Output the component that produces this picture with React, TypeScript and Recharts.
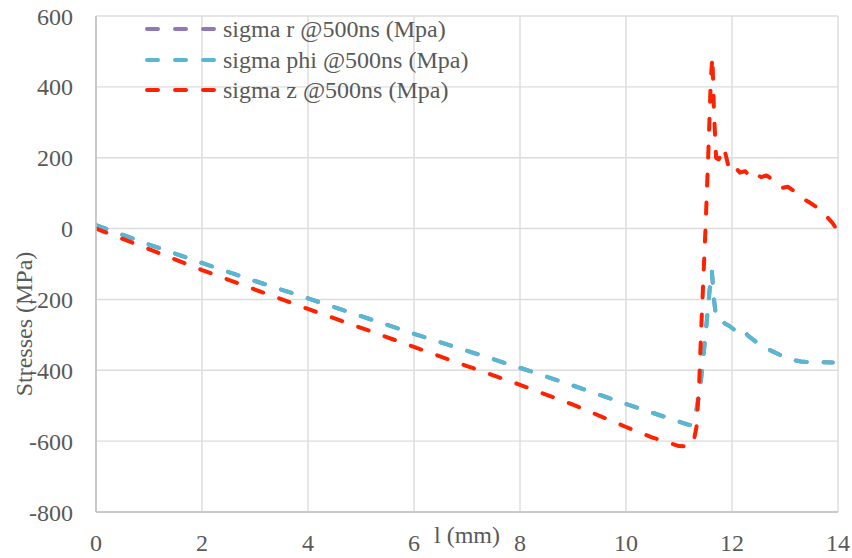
import { LineChart, Line, XAxis, YAxis, CartesianGrid, Legend, Label } from 'recharts';

const FONT = "'Liberation Serif', Tinos, 'Times New Roman', Times, 'DejaVu Serif', 'Noto Serif', serif";
const TEXT = '#595959';

const xTicks = [0, 2, 4, 6, 8, 10, 12, 14];
const yTicks = [-800, -600, -400, -200, 0, 200, 400, 600];

const seriesNames = ['sigma r @500ns (Mpa)', 'sigma phi @500ns (Mpa)', 'sigma z @500ns (Mpa)'];
const seriesColors = ['#8f78b6', '#57b8d2', '#ff2200'];

// position along the specimen, mm
const phiPos = [
  0, 1, 2, 3, 4, 5, 6, 7, 8, 9, 10, 10.5, 11, 11.2, 11.3, 11.4, 11.5, 11.58, 11.62,
  11.66, 11.7, 11.8, 11.95, 12.1, 12.2, 12.3, 12.5, 12.7, 12.9, 13.1, 13.3, 13.5, 13.7, 13.9,
];
const phiStress = [
  10, -45, -97, -148, -197, -247, -297, -345, -393, -443, -495, -520, -545, -555, -535, -450, -300, -170, -120,
  -200, -250, -262, -275, -292, -285, -302, -325, -342, -356, -370, -375, -378, -377, -378,
];

// sigma r sits underneath sigma phi over the whole length
const rPos = phiPos;
const rStress = phiStress;

const zPos = [
  0, 1, 2, 3, 4, 5, 6, 7, 8, 9, 10, 10.5, 11, 11.2, 11.27, 11.33, 11.38, 11.42, 11.46, 11.5, 11.55, 11.6, 11.63,
  11.66, 11.7, 11.75, 11.85, 11.95, 12.05, 12.15, 12.25, 12.35, 12.45, 12.55, 12.65, 12.75, 12.85, 12.95,
  13.05, 13.15, 13.3, 13.45, 13.6, 13.75, 13.9, 14,
];
const zStress = [
  0, -58, -117, -172, -227, -280, -334, -388, -441, -497, -560, -590, -614, -615, -605, -560, -440, -280, -140, 0, 200, 420, 485,
  330, 200, 195, 228, 165, 175, 158, 162, 145, 155, 145, 150, 140, 128, 115,
  118, 108, 88, 75, 60, 40, 15, -8,
];

const zip = (xs: number[], ys: number[]) => xs.map((x, i) => ({ x, y: ys[i] }));
const seriesData = [zip(rPos, rStress), zip(phiPos, phiStress), zip(zPos, zStress)];

function LegendBox() {
  return (
    <div style={{ fontFamily: FONT, fontSize: 24, color: TEXT }}>
      {seriesNames.map((name, i) => (
        <div key={name} style={{ display: 'flex', alignItems: 'center', height: 30.5, whiteSpace: 'nowrap' }}>
          <svg width={80} height={8} style={{ flex: 'none' }}>
            <line
              x1={4}
              y1={4}
              x2={72}
              y2={4}
              stroke={seriesColors[i]}
              strokeWidth={4}
              strokeDasharray="11 17"
              strokeLinecap="round"
            />
          </svg>
          <span style={{ lineHeight: '24px' }}>{name}</span>
        </div>
      ))}
    </div>
  );
}

export default function App() {
  return (
    <div style={{ position: 'absolute', left: 0, top: 0, background: '#fff', fontFamily: FONT }}>
      <LineChart width={852} height={558} margin={{ top: 16, right: 14, bottom: 0, left: 0 }}>
        <CartesianGrid stroke="#dcdcdc" strokeWidth={1.4} horizontalValues={yTicks} verticalValues={xTicks} />
        <XAxis
          type="number"
          dataKey="x"
          domain={[0, 14]}
          ticks={xTicks}
          allowDataOverflow
          height={46}
          tickLine={false}
          tickSize={0}
          tickMargin={22}
          axisLine={{ stroke: '#bfbfbf', strokeWidth: 1.5 }}
          tick={{ fill: TEXT, fontSize: 24, fontFamily: FONT }}
        >
          <Label
            content={({ viewBox }: any) => (
              <text
                x={viewBox.x + viewBox.width / 2}
                y={viewBox.y + 23}
                textAnchor="middle"
                dominantBaseline="central"
                fill={TEXT}
                fontSize={24}
                fontFamily={FONT}
              >
                l (mm)
              </text>
            )}
          />
        </XAxis>
        <YAxis
          type="number"
          domain={[-800, 600]}
          ticks={yTicks}
          allowDataOverflow
          width={96}
          tickLine={false}
          tickSize={0}
          tickMargin={23}
          axisLine={{ stroke: '#bfbfbf', strokeWidth: 1.5 }}
          tick={{ fill: TEXT, fontSize: 24, fontFamily: FONT }}
        >
          <Label
            content={({ viewBox }: any) => {
              const cx = viewBox.x + 24;
              const cy = viewBox.y + viewBox.height / 2 + 60;
              return (
                <text
                  x={cx}
                  y={cy}
                  transform={`rotate(-90 ${cx} ${cy})`}
                  textAnchor="middle"
                  dominantBaseline="central"
                  fill={TEXT}
                  fontSize={24}
                  fontFamily={FONT}
                >
                  Stresses (MPa)
                </text>
              );
            }}
          />
        </YAxis>
        {/* centred/middle so the legend takes no room from the plot; moved by wrapperStyle */}
        <Legend
          layout="vertical"
          align="center"
          verticalAlign="middle"
          content={() => <LegendBox />}
          wrapperStyle={{ left: 143, top: 14, width: 'auto', height: 'auto' }}
        />
        {seriesData.map((d, i) => (
          <Line
            key={seriesNames[i]}
            data={d}
            dataKey="y"
            name={seriesNames[i]}
            type="linear"
            stroke={seriesColors[i]}
            strokeWidth={4}
            strokeDasharray="11 17"
            strokeLinecap="round"
            strokeLinejoin="round"
            dot={false}
            activeDot={false}
            isAnimationActive={false}
          />
        ))}
      </LineChart>
    </div>
  );
}
